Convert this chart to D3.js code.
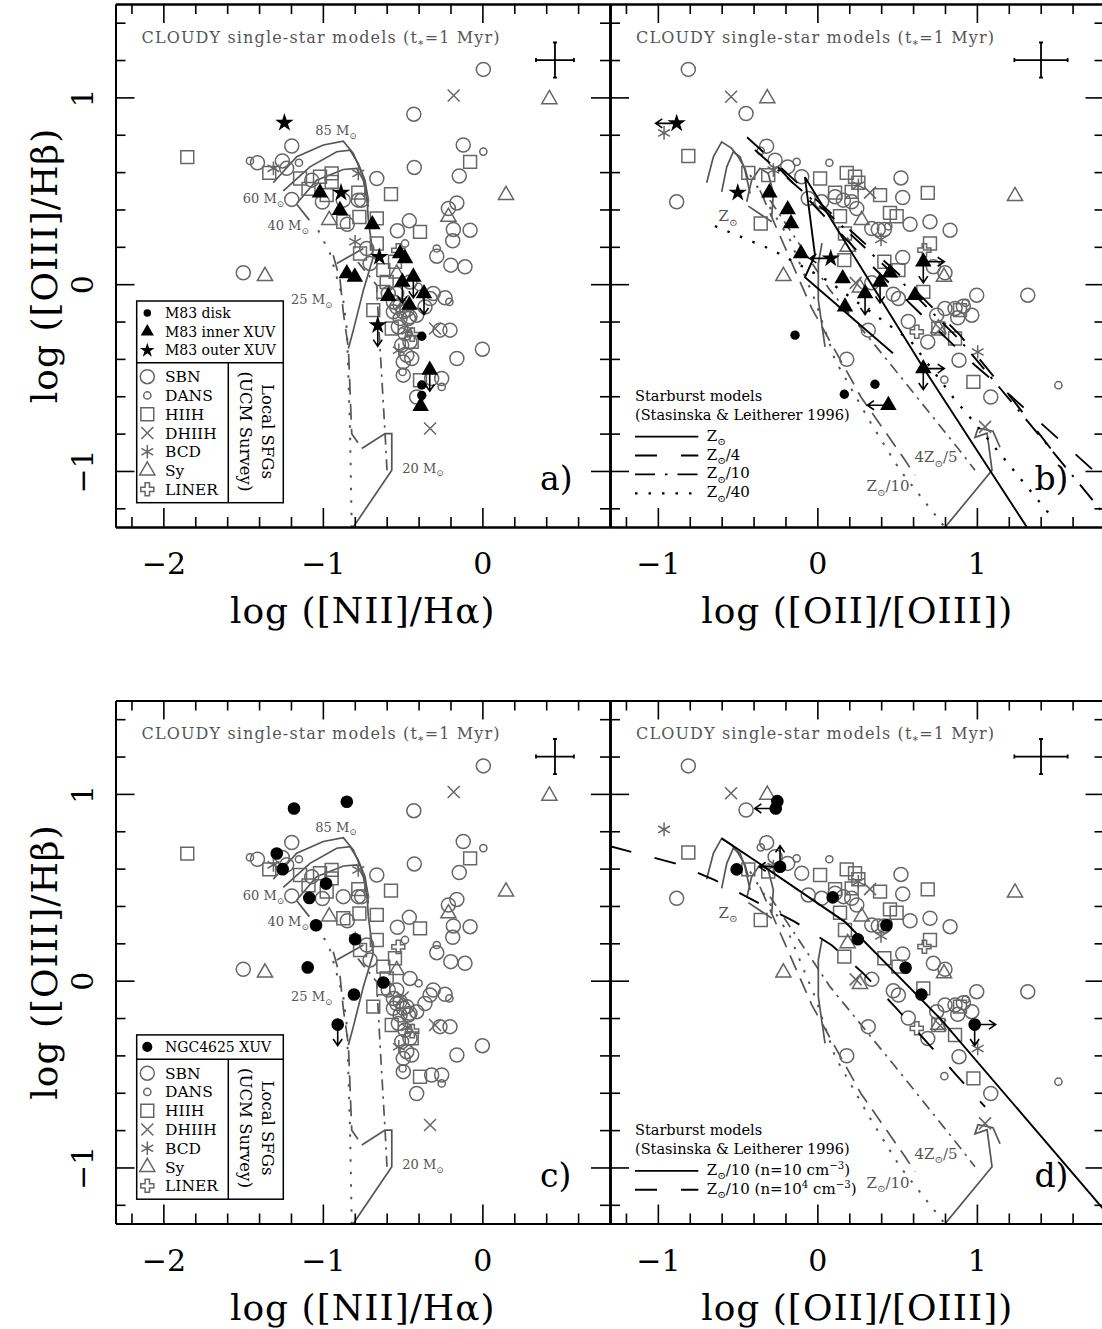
<!DOCTYPE html>
<html>
<head>
<meta charset="utf-8">
<script src="https://cdn.jsdelivr.net/npm/d3@7"></script>
<style>
  body { margin: 0; background: #fff; }
  svg text { font-family: "DejaVu Serif", serif; }
  .ax path { stroke-width: 2; }
  .ax line { stroke-width: 1.6; }
  .ax text { font-size: 30px; font-family: "DejaVu Serif", serif; }
</style>
</head>
<body>
<script>
// ---------- local SFGs (UCM survey): log([NII]/Ha) vs log([OIII]/Hb)
var n2SBN = [[0.006,1.15],[-0.43,0.91],[-1.195,0.74],[-1.41,0.65],[-1.254,0.66],[-1.227,0.62],[-1.07,0.557],[-1.195,0.454],
  [-1.003,0.44],[-0.872,0.45],[-0.778,0.45],[-0.757,0.45],[-0.662,0.566],[-0.847,0.321],[-0.427,0.625],[-0.12,0.745],
  [-0.145,0.579],[-0.213,0.405],[-0.16,0.435],[-0.182,0.293],[-0.077,0.289],[-0.186,0.232],[-0.458,0.339],[-0.533,0.286],
  [-0.725,0.191],[-0.704,0.111],[-0.286,0.15],[-0.198,0.102],[-0.109,0.093],[-1.499,0.061],[-0.234,-0.073],[-0.266,-0.246],
  [-0.203,-0.246],[-0.16,-0.398],[0.0,-0.348],[-0.59,-0.05],[-0.558,-0.095],[-0.516,-0.112],[-0.474,-0.139],[-0.558,-0.148],
  [-0.516,-0.184],[-0.464,-0.184],[-0.412,-0.166],[-0.36,-0.122],[-0.328,-0.077],[-0.308,-0.05],[-0.454,0.012],[-0.537,-0.05],
  [-0.537,-0.122],[-0.496,-0.148],[-0.454,-0.175],[-0.527,-0.229],[-0.485,-0.264],[-0.454,-0.309],[-0.506,-0.327],
  [-0.474,-0.38],[-0.496,-0.416],[-0.443,-0.398],[-0.496,-0.487],[-0.318,-0.505],[-0.255,-0.505],[-0.412,-0.604]];
var n2DANS = [[-1.457,0.66],[-1.15,0.65],[0.006,0.71],[-0.485,0.218],[-0.286,0.191],[-0.207,-0.095],[-0.40,-0.014],
  [-0.255,-0.55],[-0.50,-0.47]];
var n2HIIH = [[-1.85,0.68],[-1.336,0.596],[-1.143,0.566],[-1.09,0.51],[-1.018,0.575],[-0.945,0.593],[-0.945,0.548],
  [-0.976,0.477],[-0.778,0.49],[-0.573,0.482],[-0.872,0.334],[-0.771,0.36],[-0.662,0.352],[-0.077,0.655],[-0.391,0.28],
  [-0.767,0.164],[-0.662,0.218],[-0.621,0.075],[-0.548,0.12],[-0.684,-0.139],[-0.60,0.012],[-0.568,-0.237],
  [-0.391,-0.514],[-0.443,-0.309],[-0.621,-0.041]];
var n2DHIIH = [[-0.18,1.01],[-0.297,-0.237],[-0.328,-0.773],[-0.50,-0.09]];
var n2BCD = [[-1.31,0.62],[-0.778,0.593],[-0.798,0.227],[-0.524,-0.354],[-0.47,-0.25]];
var n2Sy = [[0.42,0.99],[-0.96,0.343],[-1.363,0.043],[0.148,0.477],[-0.213,0.36],[-0.537,0.056]];
var n2LINER = [[-0.527,0.181],[-0.44,-0.27]];

// ---------- same galaxies: log([OII]/[OIII]) vs log([OIII]/Hb)
var o2SBN = [[-0.809,1.15],[-0.447,0.914],[-0.882,0.441],[-0.318,0.739],[-0.265,0.664],[-0.186,0.628],[-0.098,0.575],
  [0.524,0.569],[0.535,0.464],[-0.057,0.459],[0.027,0.441],[0.111,0.468],[0.163,0.45],[0.215,0.441],[0.247,0.405],
  [0.341,0.298],[0.382,0.293],[0.42,0.293],[0.581,0.321],[0.706,0.334],[0.832,0.289],[0.535,0.143],[0.727,0.093],
  [0.80,0.061],[0.341,0.007],[0.476,-0.054],[0.508,-0.077],[0.999,-0.059],[1.319,-0.059],[0.748,-0.166],[0.80,-0.13],
  [0.863,-0.13],[0.915,-0.118],[0.968,-0.166],[0.88,-0.18],[0.57,-0.2],[0.319,-0.246],[0.692,-0.309],[0.888,-0.407],
  [1.087,-0.604],[0.184,-0.402]];
var o2DANS = [[-0.355,0.714],[-0.13,0.655],[0.075,0.65],[0.796,-0.511],[1.511,-0.541],[0.93,-0.10],[0.445,0.31]];
var o2HIIH = [[-0.809,0.686],[-0.433,0.596],[-0.308,0.584],[0.017,0.566],[0.184,0.596],[0.236,0.575],[0.257,0.543],
  [0.692,0.489],[0.111,0.49],[0.215,0.494],[0.393,0.477],[0.142,0.364],[0.455,0.382],[0.497,0.364],[0.173,0.271],
  [0.169,0.129],[0.706,0.218],[0.42,0.12],[0.508,0.075],[0.664,-0.041],[0.894,-0.139],[0.758,-0.237],[0.863,-0.291],
  [0.978,-0.523],[-0.355,0.325]];
var o2DHIIH = [[-0.541,1.003],[0.33,0.49],[0.24,0.007],[1.051,-0.764],[0.77,-0.24]];
var o2BCD = [[-0.961,0.81],[-0.276,0.611],[0.257,0.53],[0.399,0.239],[1.005,-0.363]];
var o2Sy = [[-0.314,0.995],[1.239,0.471],[0.278,0.343],[0.19,0.2],[0.794,0.039],[-0.213,0.043],[0.267,-0.018],[0.758,-0.237]];
var o2LINER = [[0.671,0.182],[0.623,-0.255]];

// ---------- M83 and NGC4625 regions (third value: limit arrows)
var m83DiskN2 = [[-0.38,-0.279],[-0.38,-0.54],[-0.38,-0.595]];
var m83InnerN2 = [[-1.018,0.49],[-0.893,0.396],[-0.69,0.32],[-0.85,0.057],[-0.80,0.039],[-0.516,0.164],[-0.485,0.138],
  [-0.502,0.012,"d"],[-0.433,0.039,"d"],[-0.59,-0.064],[-0.458,-0.112],[-0.366,-0.05,"d"],[-0.33,-0.46,"d"],[-0.387,-0.653]];
var m83OuterN2 = [[-1.241,0.864],[-0.886,0.49],[-0.646,0.146],[-0.656,-0.22,"d"]];
var m83DiskO2 = [[-0.14,-0.273],[0.361,-0.536],[0.169,-0.589]];
var m83InnerO2 = [[-0.301,0.49],[-0.186,0.40],[-0.165,0.325],[-0.103,0.164],[0.159,0.03],[0.393,0.012,"d"],[0.455,0.061],
  [0.299,-0.05,"d"],[0.664,0.12,"dr"],[0.612,-0.059],[0.173,-0.121],[0.664,-0.452,"dr"],[0.445,-0.648,"l"]];
var m83OuterO2 = [[-0.882,0.861,"l"],[-0.499,0.49],[0.084,0.138,"l"]];
var ngcN2 = [[-1.181,0.922],[-0.85,0.958],[-1.289,0.681],[-1.252,0.597],[-0.98,0.52],[-1.085,0.443],[-1.043,0.297],
  [-0.798,0.222],[-1.095,0.071],[-0.621,-0.01],[-0.805,-0.074],[-0.907,-0.235,"d"]];
var ngcO2 = [[-0.251,0.961],[-0.261,0.922,"l"],[-0.234,0.61,"ul"],[-0.506,0.596],[0.096,0.446],[0.433,0.297],[0.253,0.222],
  [0.553,0.069],[0.652,-0.074],[0.986,-0.235,"rd"]];

// ---------- CLOUDY single-star model tracks (grey)
var cloudyN2Solid = [
  [[-1.311,0.543],[-1.164,0.682],[-0.997,0.745],[-0.872,0.766],[-0.809,0.70],[-0.756,0.593],[-0.725,0.486],[-0.715,0.343]],
  [[-1.248,0.50],[-1.081,0.628],[-0.913,0.709],[-0.83,0.718],[-0.778,0.646],[-0.736,0.557],[-0.715,0.45]],
  [[-1.164,0.432],[-1.039,0.557],[-0.872,0.614],[-0.788,0.62],[-0.746,0.557],[-0.715,0.414]],
  [[-1.164,0.428],[-1.085,0.343]],
  [[-0.913,0.111],[-0.746,0.191]],
  [[-0.715,0.343],[-0.684,0.146],[-0.746,-0.032],[-0.809,-0.246],[-0.84,-0.344]],
  [[-0.756,-0.88],[-0.61,-0.80],[-0.568,-0.80],[-0.568,-0.996],[-0.809,-1.30]]];
var cloudyN2Dashed = [[[-0.935,0.155],[-0.892,0.021],[-0.871,-0.157],[-0.84,-0.344],[-0.819,-0.80],[-0.756,-0.88]]];
var cloudyN2DashDot = [[[-0.78,0.118],[-0.663,-0.005],[-0.642,-0.336],[-0.61,-0.80],[-0.598,-0.996]]];
var cloudyN2Dotted = [[[-1.029,0.289],[-0.955,0.164],[-0.872,-0.086],[-0.849,-0.246],[-0.83,-0.782],[-0.819,-1.30]]];

var cloudyO2Solid = [
  [[-0.694,0.543],[-0.652,0.682],[-0.60,0.762],[-0.537,0.727],[-0.496,0.682],[-0.454,0.62],[-0.433,0.557]],
  [[-0.60,0.494],[-0.568,0.628],[-0.527,0.709],[-0.485,0.682],[-0.454,0.611],[-0.422,0.486]],
  [[-0.443,0.441],[-0.412,0.557],[-0.36,0.62],[-0.308,0.593],[-0.276,0.486],[-0.286,0.36]],
  [[-0.433,0.418],[-0.286,0.334]],
  [[0.029,0.22],[0.006,0.111],[0.006,-0.086],[0.048,-0.336]],
  [[0.80,-1.302],[1.095,-0.996],[1.064,-0.798],[0.988,-0.82],[1.007,-0.771],[1.101,-0.787],[1.145,-0.873]]];
var cloudyO2Dashed = [[[-0.36,0.503],[-0.035,-0.13],[0.274,-0.605],[0.55,-0.943],[0.612,-1.023]]];
var cloudyO2DashDot = [[[-0.297,0.45],[0.079,-0.032],[0.474,-0.445],[0.876,-0.873],[0.988,-0.996]]];
var cloudyO2Dotted = [[[-0.422,0.584],[-0.171,0.236],[-0.015,-0.086],[0.111,-0.407],[0.336,-0.745],[0.518,-0.996],[0.80,-1.302]]];

// ---------- Stasinska & Leitherer (1996) starburst models (black)
var sbZsun = [[[0.474,-0.37],[-0.078,0.037],[-0.015,0.155],[-0.078,0.573],[0.662,-0.445],[1.314,-1.302]]];
var sbZ4 = [
  [[-0.441,0.787],[-0.096,0.52],[0.218,0.279],[0.518,0.048],[0.894,-0.273],[1.227,-0.621],[1.471,-0.889]],
  [[-0.247,0.627],[0.286,0.145],[0.675,-0.182],[0.988,-0.434],[1.208,-0.595],[1.521,-0.836],[1.80,-1.05]]];
var sbZ10 = [[[-0.391,0.718],[0.079,0.37],[0.518,0.021],[0.894,-0.30],[1.208,-0.621],[1.521,-0.943],[1.803,-1.237]]];
var sbZ40 = [[[-0.642,0.311],[-0.278,0.182],[0.061,0.021],[0.249,-0.096],[0.581,-0.30],[0.85,-0.605],[0.988,-0.745],
  [1.164,-0.927],[1.471,-1.248]]];
var sbZ10n10 = [[[-0.600,0.762],[-0.349,0.619],[0.173,0.315],[0.780,-0.212],[1.82,-1.25]]];
var sbZ10n1e4 = [[[-1.30,0.72],[-0.892,0.628],[-0.642,0.538],[-0.403,0.431],[-0.14,0.315],[0.09,0.19],[0.288,0.039],
  [0.487,-0.14],[0.863,-0.497],[1.051,-0.676]]];

// typical error bars: x, y, half error in x, half error in y
var errN2 = [0.455, 1.20, 0.119, 0.094];
var errO2 = [1.402, 1.20, 0.167, 0.094];

var sfgTypes = ["SBN", "DANS", "HIIH", "DHIIH", "BCD", "Sy", "LINER"];
var m83Labels = ["M83 disk", "M83 inner XUV", "M83 outer XUV"];
var ngcLabels = ["NGC4625 XUV"];

// ---------- layout
var W = 1102, H = 1329, PW = 494.5, PH = 523;
var GRAY = "#666", LINEGRAY = "#555", TXTGRAY = "#555";
var svg = d3.select("body").append("svg").attr("width", W).attr("height", H);

var sfg = {
  n2: {SBN: n2SBN, DANS: n2DANS, HIIH: n2HIIH, DHIIH: n2DHIIH, BCD: n2BCD, Sy: n2Sy, LINER: n2LINER},
  o2: {SBN: o2SBN, DANS: o2DANS, HIIH: o2HIIH, DHIIH: o2DHIIH, BCD: o2BCD, Sy: o2Sy, LINER: o2LINER}
};
var cloudy = {
  n2: {solid: cloudyN2Solid, dashed: cloudyN2Dashed, dashdot: cloudyN2DashDot, dotted: cloudyN2Dotted},
  o2: {solid: cloudyO2Solid, dashed: cloudyO2Dashed, dashdot: cloudyO2DashDot, dotted: cloudyO2Dotted}
};
var grayDash = {solid: null, dashed: "16,9", dashdot: "11,6,2.5,6", dotted: "2.5,10"};
var blackDash = {solid: null, longdash: "22,24", dashdot: "20,10,2.5,10", dotted: "2.5,11"};

var n2Labels = [
  {t: [["85 M"], ["⊙", "sub"]], x: -0.918, y: 0.82},
  {t: [["60 M"], ["⊙", "sub"]], x: -1.372, y: 0.455},
  {t: [["40 M"], ["⊙", "sub"]], x: -1.218, y: 0.312},
  {t: [["25 M"], ["⊙", "sub"]], x: -1.07, y: -0.086},
  {t: [["20 M"], ["⊙", "sub"]], x: -0.372, y: -0.987}];
var o2Labels = [
  {t: [["Z"], ["⊙", "sub"]], x: -0.56, y: 0.359},
  {t: [["4Z"], ["⊙", "sub"], ["/5"]], x: 0.744, y: -0.932},
  {t: [["Z"], ["⊙", "sub"], ["/10"]], x: 0.443, y: -1.087}];

var panels = [
  {key: "a", left: 115.5, top: 4, xDomain: [-2.3, 0.8], side: "n2",
   black: [["disk", m83DiskN2], ["inner", m83InnerN2], ["outer", m83OuterN2]], legend: m83Labels, legendSym: ["disk", "inner", "outer"]},
  {key: "b", left: 610, top: 4, xDomain: [-1.3, 1.8], side: "o2",
   black: [["disk", m83DiskO2], ["inner", m83InnerO2], ["outer", m83OuterO2]],
   sb: [[sbZsun, "solid"], [sbZ4, "longdash"], [sbZ10, "dashdot"], [sbZ40, "dotted"]],
   sbLegend: [
     [[["Z"], ["⊙", "sub"]], "solid"],
     [[["Z"], ["⊙", "sub"], ["/4"]], "longdash"],
     [[["Z"], ["⊙", "sub"], ["/10"]], "dashdot"],
     [[["Z"], ["⊙", "sub"], ["/40"]], "dotted"]]},
  {key: "c", left: 115.5, top: 700.5, xDomain: [-2.3, 0.8], side: "n2",
   black: [["ngc", ngcN2]], legend: ngcLabels, legendSym: ["ngc"]},
  {key: "d", left: 610, top: 700.5, xDomain: [-1.3, 1.8], side: "o2",
   black: [["ngc", ngcO2]],
   sb: [[sbZ10n10, "solid"], [sbZ10n1e4, "longdash"]],
   sbLegend: [
     [[["Z"], ["⊙", "sub"], ["/10 (n=10 cm"], ["−3", "sup"], [")"]], "solid"],
     [[["Z"], ["⊙", "sub"], ["/10 (n=10"], ["4", "sup"], [" cm"], ["−3", "sup"], [")"]], "longdash"]]}
];

// ---------- symbol shapes
function xPath(h) { return "M" + -h + "," + -h + "L" + h + "," + h + "M" + -h + "," + h + "L" + h + "," + -h; }
function astPath(h) {
  var s = "";
  [90, 30, 150].forEach(function (a) {
    var r = a * Math.PI / 180, dx = h * Math.cos(r), dy = h * Math.sin(r);
    s += "M" + (-dx) + "," + (-dy) + "L" + dx + "," + dy;
  });
  return s;
}
var shapes = {
  SBN: {d: d3.symbol(d3.symbolCircle, Math.PI * 49)(), fill: "none", stroke: GRAY},
  DANS: {d: d3.symbol(d3.symbolCircle, Math.PI * 13)(), fill: "none", stroke: GRAY},
  HIIH: {d: d3.symbol(d3.symbolSquare, 166)(), fill: "none", stroke: GRAY},
  DHIIH: {d: xPath(6), fill: "none", stroke: GRAY},
  BCD: {d: astPath(6.8), fill: "none", stroke: GRAY},
  Sy: {d: d3.symbol(d3.symbolTriangle, 100)(), fill: "none", stroke: GRAY},
  LINER: {d: d3.symbol(d3.symbolCross, 95)(), fill: "none", stroke: GRAY},
  disk: {d: d3.symbol(d3.symbolCircle, Math.PI * 22)(), fill: "#000", stroke: "none"},
  ngc: {d: d3.symbol(d3.symbolCircle, Math.PI * 40)(), fill: "#000", stroke: "none"},
  inner: {d: d3.symbol(d3.symbolTriangle, 118)(), fill: "#000", stroke: "none"},
  outer: {d: d3.symbol(d3.symbolStar, 105)(), fill: "#000", stroke: "none"}
};

function drawShape(g, type, px, py, scale) {
  var s = shapes[type];
  return g.append("path").attr("d", s.d)
    .attr("transform", "translate(" + px + "," + py + ")" + (scale ? " scale(" + scale + ")" : ""))
    .attr("fill", s.fill).attr("stroke", s.stroke).attr("stroke-width", 1.5 / (scale || 1));
}

function drawArrows(g, codes, px, py) {
  codes.split("").forEach(function (c) {
    var dx = c === "l" ? -1 : c === "r" ? 1 : 0, dy = c === "u" ? -1 : c === "d" ? 1 : 0;
    var L = 21, hx = px + dx * L, hy = py + dy * L, a = Math.atan2(dy, dx), h = 8;
    g.append("path")
      .attr("d", "M" + px + "," + py + "L" + hx + "," + hy +
        "M" + (hx - h * Math.cos(a - 0.6)) + "," + (hy - h * Math.sin(a - 0.6)) + "L" + hx + "," + hy +
        "L" + (hx - h * Math.cos(a + 0.6)) + "," + (hy - h * Math.sin(a + 0.6)))
      .attr("fill", "none").attr("stroke", "#000").attr("stroke-width", 1.6);
  });
}

function richText(sel, parts, fs) {
  var cur = 0;
  parts.forEach(function (p) {
    var mode = p[1] || "";
    var off = mode === "sub" ? 0.3 * fs : mode === "sup" ? -0.42 * fs : 0;
    var t = sel.append("tspan").attr("dy", off - cur).text(p[0]);
    if (mode) t.attr("font-size", (0.68 * fs) + "px");
    cur = off;
  });
  return sel;
}

function tickList(dom, step) {
  var out = [];
  for (var v = Math.ceil(dom[0] / step - 1e-6) * step; v <= dom[1] + 1e-6; v += step) out.push(+v.toFixed(3));
  return out;
}

panels.forEach(function (p) {
  var g = svg.append("g").attr("transform", "translate(" + p.left + "," + p.top + ")");
  var x = d3.scaleLinear().domain(p.xDomain).range([0, PW]);
  var y = d3.scaleLinear().domain([-1.3, 1.5]).range([PH, 0]);
  var line = d3.line().x(function (d) { return x(d[0]); }).y(function (d) { return y(d[1]); });

  var clipId = "clip-" + p.key;
  g.append("clipPath").attr("id", clipId).append("rect").attr("width", PW).attr("height", PH);
  var plot = g.append("g").attr("clip-path", "url(#" + clipId + ")");

  // grey CLOUDY tracks
  var cl = cloudy[p.side];
  Object.keys(cl).forEach(function (style) {
    plot.append("g").selectAll("path").data(cl[style]).enter().append("path")
      .attr("d", line).attr("fill", "none").attr("stroke", LINEGRAY)
      .attr("stroke-width", style === "dotted" ? 2 : 1.7)
      .attr("stroke-dasharray", grayDash[style]);
  });

  // local SFGs
  sfgTypes.forEach(function (t) {
    sfg[p.side][t].forEach(function (d) { drawShape(plot, t, x(d[0]), y(d[1])); });
  });

  // starburst model lines
  if (p.sb) {
    p.sb.forEach(function (s) {
      plot.append("g").selectAll("path").data(s[0]).enter().append("path")
        .attr("d", line).attr("fill", "none").attr("stroke", "#000")
        .attr("stroke-width", s[1] === "dotted" ? 2.3 : 1.9)
        .attr("stroke-dasharray", blackDash[s[1]]);
    });
  }

  // M83 / NGC4625 regions
  p.black.forEach(function (b) {
    b[1].forEach(function (d) {
      if (d[2]) drawArrows(plot, d[2], x(d[0]), y(d[1]));
      drawShape(plot, b[0], x(d[0]), y(d[1]));
    });
  });

  // model labels
  var labs = p.side === "n2" ? n2Labels : o2Labels, lfs = p.side === "n2" ? 13 : 15;
  labs.forEach(function (l) {
    richText(g.append("text").attr("x", x(l.x)).attr("y", y(l.y) + 4).attr("text-anchor", "middle")
      .attr("font-size", lfs + "px").attr("fill", TXTGRAY), l.t, lfs);
  });

  // typical error cross
  var e = p.side === "n2" ? errN2 : errO2;
  var ex0 = x(e[0] - e[2]), ex1 = x(e[0] + e[2]), ey0 = y(e[1] + e[3]), ey1 = y(e[1] - e[3]);
  var ecx = x(e[0]), ecy = y(e[1]);
  g.append("path").attr("fill", "none").attr("stroke", "#000").attr("stroke-width", 1.8)
    .attr("d", "M" + ex0 + "," + ecy + "H" + ex1 + "M" + ecx + "," + ey0 + "V" + ey1 +
      "M" + ex0 + "," + (ecy - 2) + "V" + (ecy + 2) + "M" + ex1 + "," + (ecy - 2) + "V" + (ecy + 2) +
      "M" + (ecx - 2) + "," + ey0 + "H" + (ecx + 2) + "M" + (ecx - 2) + "," + ey1 + "H" + (ecx + 2));

  // title
  var tt = g.append("text").attr("x", 26).attr("y", 38.7).attr("font-size", "16px")
    .attr("letter-spacing", "1.15px").attr("fill", TXTGRAY);
  richText(tt, [["CLOUDY single-star models (t"], ["*", "sub"], ["=1 Myr)"]], 16);

  // panel letter
  g.append("text").attr("x", 424.5).attr("y", 486).attr("font-size", "33px").text(p.key + ")");

  // legend of regions + local SFGs
  if (p.legend) {
    var divY = 358.7, bx = 21.2, bw = 146.6, bBot = 498.7, vx = 112.8;
    var n = p.legend.length, firstRow = divY - 12.3 - 18.7 * (n - 1);
    var lg = g.append("g");
    lg.append("rect").attr("x", bx).attr("y", firstRow - 12).attr("width", bw).attr("height", bBot - firstRow + 12)
      .attr("fill", "#fff").attr("stroke", "#000").attr("stroke-width", 1.5);
    lg.append("path").attr("stroke", "#000").attr("stroke-width", 1.5)
      .attr("d", "M" + bx + "," + divY + "H" + (bx + bw) + "M" + vx + "," + divY + "V" + bBot);
    p.legend.forEach(function (lab, i) {
      var ry = firstRow + 18.7 * i;
      drawShape(lg, p.legendSym[i], 31.8, ry, 0.8);
      lg.append("text").attr("x", 49.5).attr("y", ry + 5).attr("font-size", "14px").text(lab);
    });
    sfgTypes.forEach(function (t, i) {
      var ry = 372.7 + 18.77 * i;
      drawShape(lg, t, 31.8, ry);
      lg.append("text").attr("x", 49.5).attr("y", ry + 5.5).attr("font-size", "15.5px").attr("fill", "#000").text(t);
    });
    lg.append("text").attr("transform", "translate(146,427.5) rotate(90)").attr("text-anchor", "middle")
      .attr("font-size", "16.5px").text("Local SFGs");
    lg.append("text").attr("transform", "translate(124.5,427.5) rotate(90)").attr("text-anchor", "middle")
      .attr("font-size", "16.5px").text("(UCM Survey)");
  }

  // starburst legend
  if (p.sbLegend) {
    var rows = p.sbLegend, r0 = 489.3 - 18.9 * (rows.length - 1);
    g.append("text").attr("x", 25).attr("y", r0 - 35.7).attr("font-size", "14.5px").text("Starburst models");
    g.append("text").attr("x", 25).attr("y", r0 - 16.7).attr("font-size", "14.5px").text("(Stasinska & Leitherer 1996)");
    rows.forEach(function (r, i) {
      var ry = r0 + 18.9 * i;
      g.append("line").attr("x1", 25).attr("x2", 88.3).attr("y1", ry).attr("y2", ry)
        .attr("stroke", "#000").attr("stroke-width", r[1] === "dotted" ? 2.3 : 1.9).attr("stroke-dasharray", blackDash[r[1]]);
      richText(g.append("text").attr("x", 96.7).attr("y", ry + 4).attr("font-size", "15px"), r[0], 15);
    });
  }

  // axes: inward ticks on all four sides
  var xMaj = tickList(p.xDomain, 1), xMin = tickList(p.xDomain, 0.2).filter(function (v) { return xMaj.indexOf(v) < 0; });
  var yMaj = tickList([-1.3, 1.5], 1), yMin = tickList([-1.3, 1.5], 0.2).filter(function (v) { return yMaj.indexOf(v) < 0; });
  var fmt = d3.format("d");
  function ax(fn, scale, vals, size, f, tr) {
    return g.append("g").attr("class", "ax").attr("transform", tr)
      .call(fn(scale).tickValues(vals).tickSize(size).tickSizeOuter(0).tickPadding(26).tickFormat(f));
  }
  ax(d3.axisBottom, x, xMin, -10, "", "translate(0," + PH + ")");
  ax(d3.axisBottom, x, xMaj, -19, fmt, "translate(0," + PH + ")");
  ax(d3.axisTop, x, xMin, -10, "", "translate(0,0)");
  ax(d3.axisTop, x, xMaj, -19, "", "translate(0,0)");
  ax(d3.axisRight, y, yMin, -10, "", "translate(" + PW + ",0)");
  ax(d3.axisRight, y, yMaj, -19, "", "translate(" + PW + ",0)");
  ax(d3.axisLeft, y, yMin, -10, "", "translate(0,0)");
  var yl = ax(d3.axisLeft, y, yMaj, -19, p.side === "n2" ? fmt : "", "translate(0,0)");
  yl.selectAll("text").attr("x", null).attr("dy", null).attr("text-anchor", "middle")
    .attr("transform", "translate(-22.5,0) rotate(-90)");

  // axis titles
  g.append("text").attr("x", PW / 2).attr("y", 619).attr("text-anchor", "middle")
    .attr("font-size", "36px").attr("letter-spacing", "1px")
    .text(p.side === "n2" ? "log ([NII]/Hα)" : "log ([OII]/[OIII])");
  if (p.side === "n2") {
    g.append("text").attr("transform", "translate(-58.5," + (PH / 2) + ") rotate(-90)").attr("text-anchor", "middle")
      .attr("font-size", "36px").attr("letter-spacing", "1px").text("log ([OIII]/Hβ)");
  }
});
</script>
</body>
</html>
